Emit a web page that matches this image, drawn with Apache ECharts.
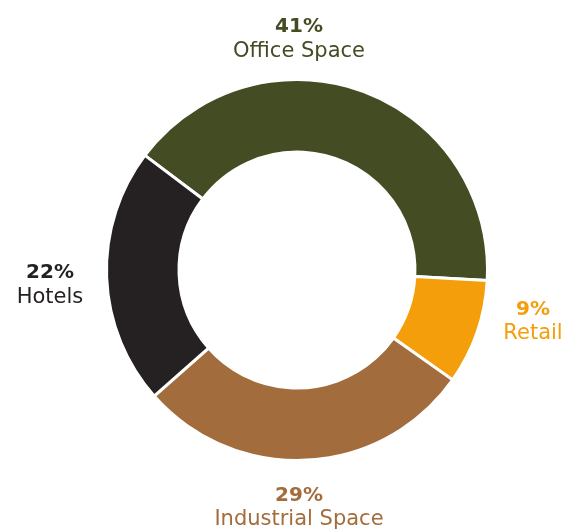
<!DOCTYPE html>
<html>
<head>
<meta charset="utf-8">
<script src="https://cdn.jsdelivr.net/npm/echarts@6/dist/echarts.min.js"></script>
<style>
html,body{margin:0;padding:0;background:#fff;}
#chart{width:564px;height:532px;}
</style>
</head>
<body>
<div id="chart"></div>
<script>
const categories = ['Office Space', 'Retail', 'Industrial Space', 'Hotels'];
const values = [41, 9, 29, 22];
const colors = ['#434c22', '#f39e0a', '#a36c3c', '#252123'];
const labelPos = [[299, 39.5], [533, 322], [299, 508], [50, 285.5]];

const chart = echarts.init(document.getElementById('chart'), null, {renderer: 'canvas'});
chart.setOption({
  animation: false,
  backgroundColor: '#ffffff',
  series: [{
    type: 'pie',
    center: [297, 270],
    radius: [118, 190.5],
    startAngle: 143,
    clockwise: true,
    avoidLabelOverlap: false,
    itemStyle: {borderColor: '#ffffff', borderWidth: 3},
    labelLine: {show: false},
    label: {
      show: true,
      position: 'outside',
      formatter: '{p|{c}%}\n{n|{b}}',
      fontFamily: 'DejaVu Sans',
      rich: {
        p: {fontFamily: 'DejaVu Sans', fontWeight: 'bold', fontSize: 20, lineHeight: 24, align: 'center'},
        n: {fontFamily: 'DejaVu Sans', fontSize: 21, lineHeight: 25, align: 'center'}
      }
    },
    labelLayout: function (params) {
      const p = labelPos[params.dataIndex];
      return {x: p[0], y: p[1], align: 'center', verticalAlign: 'middle'};
    },
    emphasis: {disabled: true},
    data: categories.map((c, i) => ({
      name: c,
      value: values[i],
      itemStyle: {color: colors[i]},
      label: {color: colors[i]}
    }))
  }]
});
</script>
</body>
</html>
